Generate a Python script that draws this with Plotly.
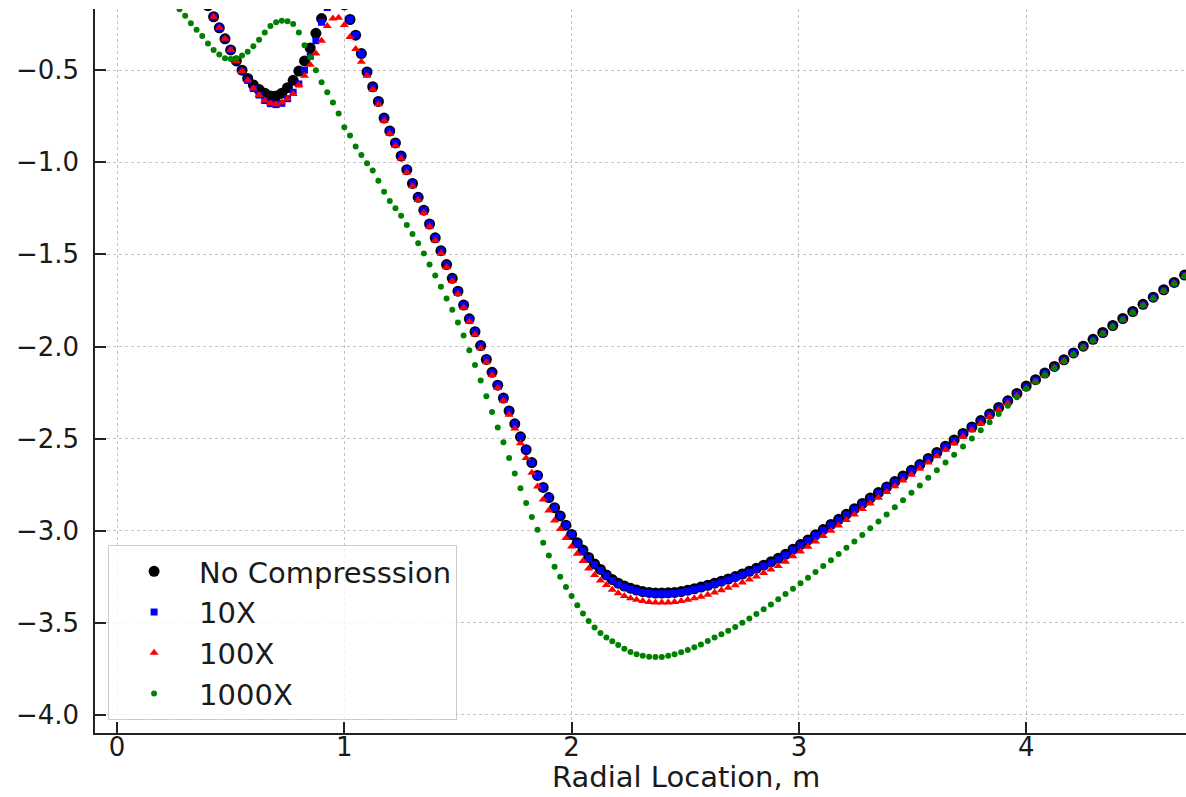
import plotly.graph_objects as go

# ---- data ----
x_loc = [
    0.250, 0.275, 0.300, 0.325, 0.350, 0.375, 0.400, 0.425, 0.450, 0.475,
    0.500, 0.525, 0.550, 0.575, 0.600, 0.625, 0.650, 0.675, 0.700, 0.725,
    0.750, 0.775, 0.800, 0.825, 0.850, 0.875, 0.900, 0.925, 0.950, 0.975,
    1.000, 1.025, 1.050, 1.075, 1.100, 1.125, 1.150, 1.175, 1.200, 1.225,
    1.250, 1.275, 1.300, 1.325, 1.350, 1.375, 1.400, 1.425, 1.450, 1.475,
    1.500, 1.525, 1.550, 1.575, 1.600, 1.625, 1.650, 1.675, 1.700, 1.725,
    1.750, 1.775, 1.800, 1.825, 1.850, 1.875, 1.900, 1.925, 1.950, 1.975,
    2.000,
    2.025, 2.050, 2.075, 2.101, 2.127, 2.153, 2.179, 2.205, 2.232, 2.259,
    2.286, 2.313, 2.341, 2.369, 2.397, 2.425, 2.453, 2.482, 2.511, 2.540,
    2.569, 2.599, 2.629, 2.659, 2.689, 2.720, 2.751, 2.782, 2.813, 2.845,
    2.877, 2.909, 2.941, 2.974, 3.007, 3.040, 3.073, 3.107, 3.141, 3.175,
    3.209, 3.244, 3.279, 3.314, 3.350, 3.386, 3.422, 3.458, 3.495, 3.532,
    3.569, 3.607, 3.645, 3.683, 3.722, 3.761, 3.800, 3.839, 3.879, 3.919,
    3.959, 4.000, 4.041, 4.082, 4.124, 4.166, 4.208, 4.251, 4.294, 4.337,
    4.381, 4.425, 4.469, 4.514, 4.559, 4.605, 4.651, 4.697,
]

no_compression = [
    0.30, 0.23, 0.16, 0.09, 0.02, -0.06, -0.15, -0.21, -0.27, -0.33,
    -0.39, -0.45, -0.50, -0.545, -0.58, -0.605, -0.625, -0.64, -0.64, -0.625,
    -0.595, -0.555, -0.505, -0.45, -0.38, -0.30, -0.22, -0.14, -0.09, -0.09,
    -0.145, -0.225, -0.31, -0.41, -0.51, -0.59, -0.67, -0.76, -0.83, -0.895,
    -0.966, -1.04, -1.115, -1.19, -1.26, -1.335, -1.41, -1.48, -1.555, -1.63,
    -1.70, -1.775, -1.85, -1.92, -1.995, -2.07, -2.14, -2.21, -2.28, -2.35,
    -2.42, -2.49, -2.56, -2.63, -2.70, -2.765, -2.82, -2.875, -2.92, -2.97,
    -3.02,
    -3.065, -3.105, -3.145, -3.18, -3.21, -3.24, -3.265, -3.285, -3.30, -3.312,
    -3.322, -3.33, -3.335, -3.338, -3.338, -3.337, -3.335, -3.33, -3.323, -3.315,
    -3.306, -3.296, -3.285, -3.274, -3.262, -3.249, -3.235, -3.22, -3.204, -3.187,
    -3.169, -3.15, -3.128, -3.10, -3.075, -3.05, -3.022, -2.994, -2.966, -2.938,
    -2.91, -2.881, -2.852, -2.823, -2.793, -2.763, -2.733, -2.703, -2.672, -2.641,
    -2.608, -2.575, -2.541, -2.507, -2.472, -2.437, -2.402, -2.367, -2.331, -2.295,
    -2.255, -2.215, -2.18, -2.144, -2.108, -2.072, -2.035, -1.998, -1.961, -1.924,
    -1.886, -1.848, -1.81, -1.771, -1.732, -1.692, -1.652, -1.612,
]

comp_10x = [
    0.30, 0.23, 0.16, 0.09, 0.02, -0.06, -0.15, -0.21, -0.27, -0.33,
    -0.39, -0.45, -0.505, -0.555, -0.60, -0.635, -0.665, -0.682, -0.687, -0.68,
    -0.655, -0.62, -0.575, -0.50, -0.425, -0.34, -0.24, -0.16, -0.11, -0.10,
    -0.15, -0.225, -0.31, -0.41, -0.51, -0.59, -0.67, -0.76, -0.83, -0.895,
    -0.966, -1.04, -1.115, -1.19, -1.26, -1.335, -1.41, -1.48, -1.555, -1.63,
    -1.70, -1.775, -1.85, -1.92, -1.995, -2.07, -2.14, -2.21, -2.28, -2.35,
    -2.42, -2.49, -2.56, -2.63, -2.70, -2.765, -2.82, -2.875, -2.92, -2.97,
    -3.02,
    -3.07, -3.11, -3.15, -3.185, -3.215, -3.245, -3.27, -3.29, -3.305, -3.317,
    -3.327, -3.335, -3.34, -3.343, -3.343, -3.342, -3.34, -3.335, -3.328, -3.32,
    -3.311, -3.301, -3.29, -3.279, -3.267, -3.254, -3.24, -3.225, -3.209, -3.192,
    -3.174, -3.155, -3.132, -3.104, -3.079, -3.054, -3.026, -2.998, -2.97, -2.942,
    -2.913, -2.884, -2.855, -2.826, -2.796, -2.766, -2.736, -2.706, -2.675, -2.644,
    -2.611, -2.578, -2.544, -2.51, -2.475, -2.44, -2.405, -2.37, -2.334, -2.298,
    -2.258, -2.218, -2.183, -2.147, -2.111, -2.075, -2.038, -2.001, -1.964, -1.927,
    -1.889, -1.851, -1.813, -1.774, -1.735, -1.695, -1.655, -1.615,
]

comp_100x = [
    0.30, 0.23, 0.16, 0.09, 0.02, -0.06, -0.15, -0.21, -0.27, -0.33,
    -0.39, -0.45, -0.505, -0.555, -0.60, -0.635, -0.665, -0.68, -0.685, -0.675,
    -0.655, -0.63, -0.58, -0.53, -0.47, -0.41, -0.34, -0.26, -0.22, -0.215,
    -0.255, -0.32, -0.385, -0.455, -0.53, -0.605, -0.685, -0.775, -0.845, -0.91,
    -0.98, -1.055, -1.13, -1.205, -1.275, -1.35, -1.425, -1.495, -1.57, -1.645,
    -1.715, -1.79, -1.865, -1.935, -2.01, -2.085, -2.155, -2.225, -2.295, -2.37,
    -2.445, -2.525, -2.605, -2.685, -2.76, -2.83, -2.89, -2.945, -2.99, -3.04,
    -3.085,
    -3.125, -3.165, -3.205, -3.24, -3.27, -3.295, -3.32, -3.34, -3.355, -3.366,
    -3.375, -3.382, -3.387, -3.39, -3.39, -3.389, -3.387, -3.382, -3.375, -3.367,
    -3.358, -3.347, -3.335, -3.323, -3.31, -3.296, -3.281, -3.265, -3.248, -3.23,
    -3.211, -3.191, -3.168, -3.139, -3.113, -3.087, -3.058, -3.029, -3.0, -2.971,
    -2.942, -2.912, -2.882, -2.852, -2.821, -2.79, -2.759, -2.728, -2.696, -2.664,
    -2.63, -2.596, -2.561, -2.526, -2.49, -2.454, -2.418, -2.382, -2.345, -2.308,
    -2.267, -2.226, -2.19, -2.153, -2.116, -2.079, -2.042, -2.004, -1.967, -1.93,
    -1.892, -1.853, -1.815, -1.776, -1.737, -1.697, -1.657, -1.617,
]

comp_1000x = [
    -0.13, -0.17, -0.205, -0.245, -0.28, -0.315, -0.355, -0.39, -0.415, -0.435,
    -0.44, -0.435, -0.42, -0.40, -0.37, -0.335, -0.295, -0.26, -0.24, -0.232,
    -0.235, -0.25, -0.295, -0.365, -0.43, -0.50, -0.565, -0.62, -0.675, -0.735,
    -0.81, -0.855, -0.915, -0.96, -1.005, -1.045, -1.10, -1.16, -1.21, -1.25,
    -1.29, -1.34, -1.39, -1.44, -1.495, -1.555, -1.615, -1.675, -1.74, -1.80,
    -1.87, -1.94, -2.02, -2.10, -2.185, -2.27, -2.355, -2.44, -2.52, -2.605,
    -2.69, -2.77, -2.85, -2.925, -2.995, -3.065, -3.135, -3.195, -3.25, -3.305,
    -3.355,
    -3.405, -3.45, -3.49, -3.525, -3.555, -3.58, -3.60, -3.62, -3.64, -3.658,
    -3.67, -3.679, -3.684, -3.686, -3.685, -3.679, -3.67, -3.66, -3.648, -3.633,
    -3.617, -3.598, -3.58, -3.562, -3.543, -3.522, -3.50, -3.477, -3.452, -3.426,
    -3.40, -3.372, -3.344, -3.315, -3.285, -3.255, -3.224, -3.192, -3.16, -3.127,
    -3.093, -3.058, -3.023, -2.987, -2.95, -2.912, -2.873, -2.834, -2.794, -2.754,
    -2.713, -2.672, -2.63, -2.587, -2.543, -2.499, -2.455, -2.411, -2.366, -2.321,
    -2.275, -2.23, -2.192, -2.155, -2.118, -2.081, -2.044, -2.006, -1.969, -1.931,
    -1.893, -1.855, -1.817, -1.778, -1.739, -1.699, -1.659, -1.619,
]

series_names = ["No Compresssion", "10X", "100X", "1000X"]
x_title = "Radial Location, m"
x_tick_vals = [0, 1, 2, 3, 4]
x_tick_text = ["0", "1", "2", "3", "4"]
y_tick_vals = [-4.0, -3.5, -3.0, -2.5, -2.0, -1.5, -1.0, -0.5]
y_tick_text = ["\u22124.0", "\u22123.5", "\u22123.0", "\u22122.5",
               "\u22122.0", "\u22121.5", "\u22121.0", "\u22120.5"]

for s in (no_compression, comp_10x, comp_100x, comp_1000x):
    assert len(s) == len(x_loc)

FONT = "DejaVu Sans"
TXT = "#1a1a1a"
styles = [
    dict(color="black", symbol="circle", size=11),
    dict(color="#0000ff", symbol="square", size=7),
    dict(color="#ff0000", symbol="triangle-up", size=8),
    dict(color="#008000", symbol="circle", size=6),
]

fig = go.Figure()
for i, (name, ys, st) in enumerate(zip(series_names,
                                       [no_compression, comp_10x, comp_100x, comp_1000x],
                                       styles)):
    fig.add_trace(go.Scatter(
        x=x_loc, y=ys, mode="markers", name=name, legendgroup=f"g{i}",
        marker=dict(color=st["color"], symbol=st["symbol"], size=st["size"],
                    line=dict(width=0)),
    ))

axis_common = dict(
    showline=True, linecolor="#222222", linewidth=1.5,
    ticks="inside", ticklen=11, tickwidth=1.5, tickcolor="#222222",
    showgrid=True, gridcolor="#c4c4c4", griddash="dot", gridwidth=1,
    zeroline=False, mirror=False, automargin=False,
    tickfont=dict(family=FONT, size=26, color=TXT),
)

fig.update_layout(
    width=1186, height=797,
    margin=dict(l=95, r=0, t=9, b=64, pad=0),
    paper_bgcolor="white", plot_bgcolor="white",
    font=dict(family=FONT, size=26, color=TXT),
    xaxis=dict(range=[-0.0968, 4.703], tickvals=x_tick_vals, ticktext=x_tick_text,
               ticklabelstandoff=-10, **axis_common),
    yaxis=dict(range=[-4.098, -0.168], tickvals=y_tick_vals, ticktext=y_tick_text,
               ticklabelstandoff=9, **axis_common),
    showlegend=True,
    legend=dict(x=0.012, y=0.018, xanchor="left", yanchor="bottom",
                bgcolor="rgba(255,255,255,0.8)", bordercolor="#cccccc", borderwidth=1,
                font=dict(family=FONT, size=29, color=TXT),
                itemwidth=80, tracegroupgap=1, traceorder="normal"),
    annotations=[dict(text=x_title, xref="paper", yref="paper",
                      x=0.5417, y=-0.0875, xanchor="center", yanchor="bottom",
                      showarrow=False, font=dict(family=FONT, size=29, color=TXT))],
)

fig.write_html("out.html")
